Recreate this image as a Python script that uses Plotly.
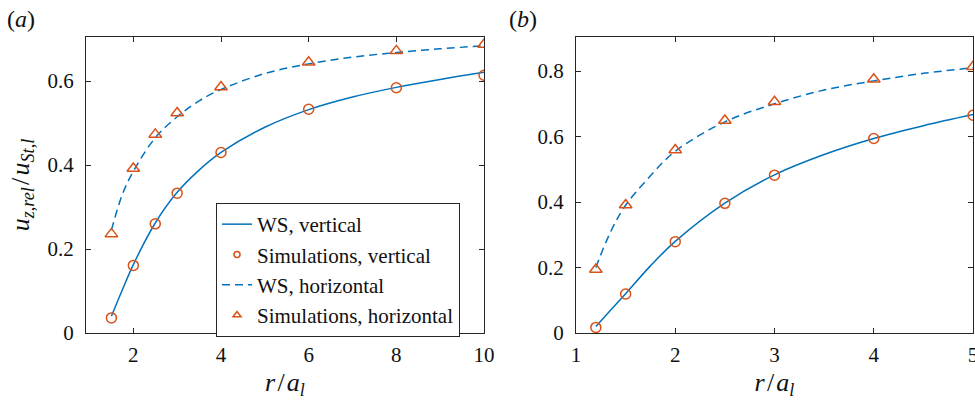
import plotly.graph_objects as go

# ---------------- data: panel (a) ----------------
a_sim_x = [1.5, 2, 2.5, 3, 4, 6, 8, 10]
a_sim_vert = [0.036, 0.161, 0.260, 0.333, 0.430, 0.533, 0.584, 0.614]
a_sim_horiz = [0.236, 0.392, 0.473, 0.524, 0.586, 0.645, 0.672, 0.687]

a_ws_x = [1.5, 1.75, 2, 2.5, 3, 3.5, 4, 5, 6, 7, 8, 9, 10]
a_ws_vert = [0.040, 0.103, 0.163, 0.262, 0.335, 0.388, 0.430, 0.490, 0.532, 0.562, 0.585, 0.604, 0.621]
a_ws_horiz = [0.245, 0.330, 0.385, 0.465, 0.515, 0.553, 0.580, 0.618, 0.641, 0.657, 0.668, 0.677, 0.684]

# ---------------- data: panel (b) ----------------
b_sim_x = [1.2, 1.5, 2, 2.5, 3, 4, 5]
b_sim_vert = [0.017, 0.119, 0.279, 0.396, 0.482, 0.594, 0.665]
b_sim_horiz = [0.194, 0.391, 0.559, 0.649, 0.706, 0.775, 0.813]

b_ws_x = [1.2, 1.35, 1.5, 1.75, 2, 2.5, 3, 3.5, 4, 4.5, 5]
b_ws_vert = [0.020, 0.070, 0.120, 0.205, 0.280, 0.397, 0.483, 0.545, 0.594, 0.633, 0.667]
b_ws_horiz = [0.200, 0.310, 0.390, 0.480, 0.555, 0.645, 0.700, 0.742, 0.770, 0.793, 0.810]

a_xticks = [2, 4, 6, 8, 10]
a_yticks = [0, 0.2, 0.4, 0.6]
a_yticktext = ["0", "0.2", "0.4", "0.6"]
b_xticks = [1, 2, 3, 4, 5]
b_yticks = [0, 0.2, 0.4, 0.6, 0.8]
b_yticktext = ["0", "0.2", "0.4", "0.6", "0.8"]

legend_names = ["WS, vertical", "Simulations, vertical", "WS, horizontal", "Simulations, horizontal"]

BLUE = "#0072BD"
ORANGE = "#D95319"
AXC = "#262626"
TXT = "#111111"
FONT = "Liberation Serif"
DASH = "8px,5px"

fig = go.Figure()

def add_panel(xa, ya, ws_x, ws_v, ws_h, sim_x, sim_v, sim_h):
    fig.add_trace(go.Scatter(x=ws_x, y=ws_v, mode="lines", line=dict(color=BLUE, width=1.5, shape="spline"),
                             showlegend=False, xaxis=xa, yaxis=ya))
    fig.add_trace(go.Scatter(x=ws_x, y=ws_h, mode="lines", line=dict(color=BLUE, width=1.5, dash=DASH, shape="spline"),
                             showlegend=False, xaxis=xa, yaxis=ya))
    fig.add_trace(go.Scatter(x=sim_x, y=sim_v, mode="markers",
                             marker=dict(symbol="circle-open", size=10, color=ORANGE, line=dict(width=1.5, color=ORANGE)),
                             showlegend=False, xaxis=xa, yaxis=ya))
    fig.add_trace(go.Scatter(x=sim_x, y=sim_h, mode="markers",
                             marker=dict(symbol="triangle-up-open", size=11, color=ORANGE, line=dict(width=1.5, color=ORANGE)),
                             showlegend=False, xaxis=xa, yaxis=ya))

add_panel("x", "y", a_ws_x, a_ws_vert, a_ws_horiz, a_sim_x, a_sim_vert, a_sim_horiz)
add_panel("x2", "y2", b_ws_x, b_ws_vert, b_ws_horiz, b_sim_x, b_sim_vert, b_sim_horiz)

# legend entries (small legend glyphs, as in the reference)
fig.add_trace(go.Scatter(x=[None], y=[None], mode="lines", line=dict(color=BLUE, width=1.5), name=legend_names[0]))
fig.add_trace(go.Scatter(x=[None], y=[None], mode="markers", name=legend_names[1],
                         marker=dict(symbol="circle-open", size=6, color=ORANGE, line=dict(width=1.5, color=ORANGE))))
fig.add_trace(go.Scatter(x=[None], y=[None], mode="lines", line=dict(color=BLUE, width=1.5, dash=DASH), name=legend_names[2]))
fig.add_trace(go.Scatter(x=[None], y=[None], mode="markers", name=legend_names[3],
                         marker=dict(symbol="triangle-up-open", size=7, color=ORANGE, line=dict(width=1.5, color=ORANGE))))

W, H = 975, 400
ydom = [(H - 333) / H, (H - 37) / H]

axis_common = dict(showline=True, linecolor=AXC, linewidth=1, mirror="ticks", ticks="inside",
                   ticklen=5, tickcolor=AXC, showgrid=False, zeroline=False, automargin=False,
                   ticklabeloverflow="allow",
                   tickfont=dict(family=FONT, size=21, color=TXT))

HS = "\u200a"
xtitle = "<i>r</i>" + HS + "/" + HS + "<i>a</i><sub><i>l</i></sub>"
ytitle = "<i>u</i><sub><i>z</i>,<i>rel</i></sub>" + HS + "/" + HS + "<i>u</i><sub><i>St</i>,<i>l</i></sub>"
TF = dict(family=FONT, size=26, color=TXT)

fig.update_layout(
    width=W, height=H,
    margin=dict(l=0, r=0, t=0, b=0, autoexpand=False),
    paper_bgcolor="white", plot_bgcolor="white",
    font=dict(family=FONT, size=21, color=TXT),
    xaxis=dict(domain=[86 / W, 484 / W], range=[0.92, 10], tickvals=a_xticks, anchor="y",
               ticklabelstandoff=3,
               title=dict(text=xtitle, font=TF, standoff=8), **axis_common),
    yaxis=dict(domain=ydom, range=[0, 0.705], tickvals=a_yticks, ticktext=a_yticktext, anchor="x",
               ticklabelstandoff=7,
               title=dict(text=ytitle, font=TF, standoff=10), **axis_common),
    xaxis2=dict(domain=[576 / W, 973 / W], range=[1, 5], tickvals=b_xticks, anchor="y2",
                ticklabelstandoff=3,
                title=dict(text=xtitle, font=TF, standoff=8), **axis_common),
    yaxis2=dict(domain=ydom, range=[0, 0.904], tickvals=b_yticks, ticktext=b_yticktext, anchor="x2",
                ticklabelstandoff=7, **axis_common),
    legend=dict(x=216 / W, xanchor="left", y=(H - 203) / H, yanchor="top",
                bgcolor="white", bordercolor=AXC, borderwidth=1,
                font=dict(family=FONT, size=21, color=TXT),
                tracegroupgap=0, itemwidth=30,
                entrywidth=258, entrywidthmode="pixels"),
    annotations=[
        dict(text="(<i>a</i>)", x=5 / W, y=(H - 19) / H, xref="paper", yref="paper",
             xanchor="left", yanchor="middle", showarrow=False, font=dict(family=FONT, size=24, color=TXT)),
        dict(text="(<i>b</i>)", x=507 / W, y=(H - 19) / H, xref="paper", yref="paper",
             xanchor="left", yanchor="middle", showarrow=False, font=dict(family=FONT, size=24, color=TXT)),
    ],
)

fig.write_html("out.html")
